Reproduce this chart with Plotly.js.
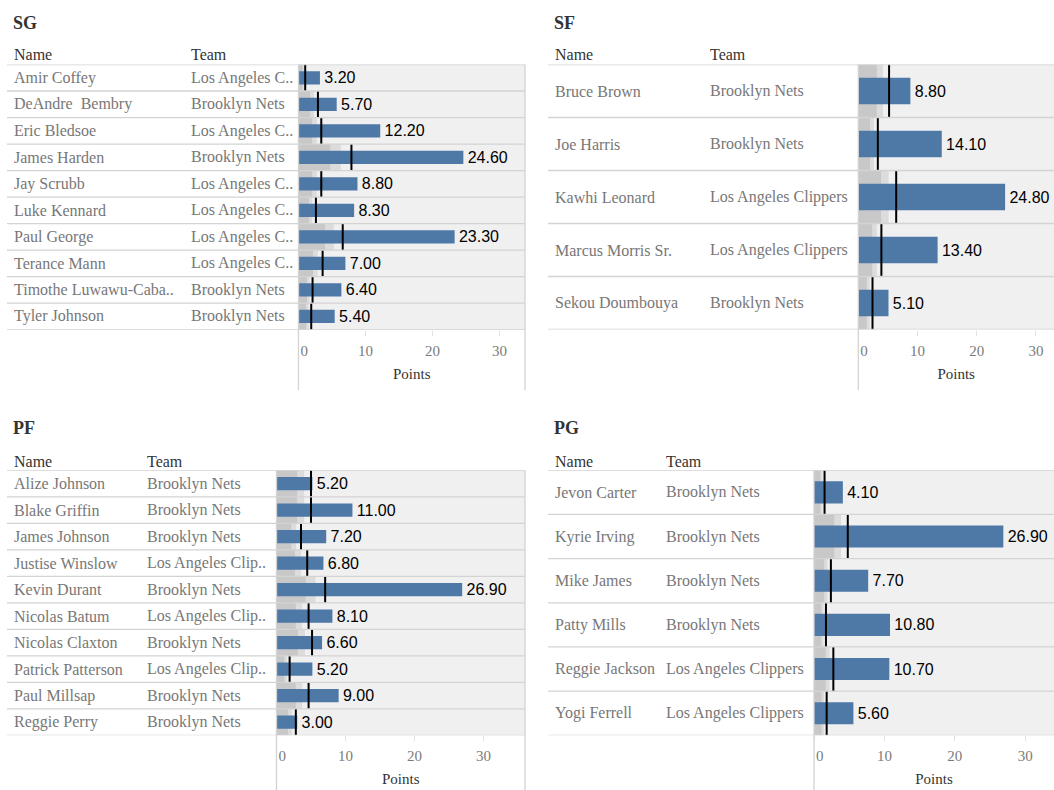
<!DOCTYPE html>
<html>
<head>
<meta charset="utf-8">
<script src="https://cdn.plot.ly/plotly-3.0.1.min.js"></script>
<style>html,body{margin:0;padding:0;background:#fff;}#chart{width:1054px;height:790px;}</style>
</head>
<body>
<div id="chart"></div>
<script>
// ---------- DATA ----------
const sgNames  = ["Amir Coffey","DeAndre  Bembry","Eric Bledsoe","James Harden","Jay Scrubb","Luke Kennard","Paul George","Terance Mann","Timothe Luwawu-Caba..","Tyler Johnson"];
const sgTeams  = ["Los Angeles C..","Brooklyn Nets","Los Angeles C..","Brooklyn Nets","Los Angeles C..","Los Angeles C..","Los Angeles C..","Los Angeles C..","Brooklyn Nets","Brooklyn Nets"];
const sgPoints = [3.2,5.7,12.2,24.6,8.8,8.3,23.3,7.0,6.4,5.4];
const sgRefs   = [1.0,2.9,3.4,7.9,3.4,2.6,6.6,3.6,2.1,1.9];

const sfNames  = ["Bruce Brown","Joe Harris","Kawhi Leonard","Marcus Morris Sr.","Sekou Doumbouya"];
const sfTeams  = ["Brooklyn Nets","Brooklyn Nets","Los Angeles Clippers","Los Angeles Clippers","Brooklyn Nets"];
const sfPoints = [8.8,14.1,24.8,13.4,5.1];
const sfRefs   = [5.2,3.3,6.4,3.9,2.4];

const pfNames  = ["Alize Johnson","Blake Griffin","James Johnson","Justise Winslow","Kevin Durant","Nicolas Batum","Nicolas Claxton","Patrick Patterson","Paul Millsap","Reggie Perry"];
const pfTeams  = ["Brooklyn Nets","Brooklyn Nets","Brooklyn Nets","Los Angeles Clip..","Brooklyn Nets","Los Angeles Clip..","Brooklyn Nets","Los Angeles Clip..","Brooklyn Nets","Brooklyn Nets"];
const pfPoints = [5.2,11.0,7.2,6.8,26.9,8.1,6.6,5.2,9.0,3.0];
const pfRefs   = [5.0,5.0,3.55,4.45,7.05,4.65,5.15,1.9,4.65,2.8];

const pgNames  = ["Jevon Carter","Kyrie Irving","Mike James","Patty Mills","Reggie Jackson","Yogi Ferrell"];
const pgTeams  = ["Brooklyn Nets","Brooklyn Nets","Brooklyn Nets","Brooklyn Nets","Los Angeles Clippers","Los Angeles Clippers"];
const pgPoints = [4.1,26.9,7.7,10.8,10.7,5.6];
const pgRefs   = [1.5,4.8,2.4,1.7,2.75,1.8];

const tickVals = [0,10,20,30];
const tickText = ["\u00a0\u00a0\u00a00","10","20","30"];
const axisTitle = "Points";
const colHeaders = ["Name","Team"];

// ---------- LAYOUT GEOMETRY (pixels) ----------
const W = 1054, H = 790;
const fx = v => v / W, fy = v => 1 - v / H;

const panels = [
  {title:"SG", names:sgNames, teams:sgTeams, pts:sgPoints, refs:sgRefs,
   titleX:11, titleY:22.7, headY:54.3, nameX:12, teamX:189, sepX:7,
   x0:298.5, x1:525, yTop:64.5, yBot:329.7, axBot:390, xmax:33.8, rightBorder:true},
  {title:"SF", names:sfNames, teams:sfTeams, pts:sfPoints, refs:sfRefs,
   titleX:552, titleY:22.7, headY:54.3, nameX:553, teamX:708, sepX:548,
   x0:858.3, x1:1054, yTop:64.5, yBot:329.5, axBot:390, xmax:33.06, rightBorder:false},
  {title:"PF", names:pfNames, teams:pfTeams, pts:pfPoints, refs:pfRefs,
   titleX:11, titleY:427.8, headY:461, nameX:12, teamX:144.5, sepX:7,
   x0:276.5, x1:525, yTop:470.3, yBot:735.3, axBot:790, xmax:36.0, rightBorder:true},
  {title:"PG", names:pgNames, teams:pgTeams, pts:pgPoints, refs:pgRefs,
   titleX:552, titleY:427.8, headY:461, nameX:553, teamX:663.5, sepX:548,
   x0:814, x1:1054, yTop:470.3, yBot:735.3, axBot:790, xmax:34.1, rightBorder:false}
];

const SERIF = "Liberation Serif";
const SANS = "Liberation Sans";
const BLUE = "#4e79a7", BAND_DARK = "#c8c8c8", BAND_LIGHT = "#dcdcdc", SEP = "#d3d3d3";

const traces = [];
const shapes = [];
const annotations = [];
const layout = {
  width: W, height: H,
  margin: {l:0, r:0, t:0, b:0},
  paper_bgcolor: "#ffffff",
  plot_bgcolor: "#f0f0f0",
  barmode: "overlay",
  showlegend: false,
  font: {family: SERIF, color: "#333"}
};

panels.forEach((p, k) => {
  const n = p.names.length;
  const xa = k === 0 ? "x" : "x" + (k + 1);
  const ya = k === 0 ? "y" : "y" + (k + 1);
  const xaKey = k === 0 ? "xaxis" : "xaxis" + (k + 1);
  const yaKey = k === 0 ? "yaxis" : "yaxis" + (k + 1);

  layout[xaKey] = {
    domain: [fx(p.x0), fx(p.x1)], anchor: ya,
    range: [0, p.xmax], fixedrange: true,
    tickvals: tickVals, ticktext: tickText,
    ticks: "outside", ticklen: 5, tickcolor: "#e2e2e2", tickwidth: 1,
    showgrid: false, zeroline: false, showline: false,
    tickfont: {family: SERIF, size: 15, color: "#7b7b7b"},
    ticklabelstandoff: 2,
    title: {text: axisTitle, font: {family: SERIF, size: 15, color: "#333"}, standoff: 10}
  };
  layout[yaKey] = {
    domain: [fy(p.yBot), fy(p.yTop)], anchor: xa,
    type: "category", categoryarray: p.names, categoryorder: "array",
    range: [n - 0.5, -0.5], fixedrange: true,
    showticklabels: false, showgrid: false, zeroline: false, showline: false, ticks: ""
  };

  // distribution bands (60% and 80% of reference)
  traces.push({type:"bar", orientation:"h", xaxis:xa, yaxis:ya, y:p.names,
    x:p.refs.map(r => 0.8 * r), width:1, marker:{color:BAND_LIGHT}, hoverinfo:"skip"});
  traces.push({type:"bar", orientation:"h", xaxis:xa, yaxis:ya, y:p.names,
    x:p.refs.map(r => 0.6 * r), width:1, marker:{color:BAND_DARK}, hoverinfo:"skip"});
  // value bars
  traces.push({type:"bar", orientation:"h", xaxis:xa, yaxis:ya, y:p.names, x:p.pts,
    width:0.5, marker:{color:BLUE},
    texttemplate:"\u200a%{x:.2f}", textposition:"outside", constraintext:"none", cliponaxis:false,
    textfont:{family:SANS, size:16, color:"#000"},
    hovertemplate:"%{y}: %{x:.2f}<extra></extra>"});

  // reference lines
  p.refs.forEach((r, i) => {
    shapes.push({type:"line", layer:"above", xref:xa, yref:ya,
      x0:r, x1:r, y0:i - 0.5, y1:i + 0.5, line:{color:"#000", width:2}});
  });
  // row separators
  for (let i = 0; i <= n; i++) {
    shapes.push({type:"line", layer:"above", xref:"paper", yref:ya,
      x0:fx(p.sepX), x1:fx(p.x1), y0:i - 0.5, y1:i - 0.5, line:{color:SEP, width:1.3}});
  }
  // pane borders below plot
  shapes.push({type:"line", layer:"above", xref:"paper", yref:"paper",
    x0:fx(p.x0), x1:fx(p.x0), y0:fy(p.yTop), y1:fy(p.axBot), line:{color:SEP, width:1.3}});
  if (p.rightBorder) {
    shapes.push({type:"line", layer:"above", xref:"paper", yref:"paper",
      x0:fx(p.x1), x1:fx(p.x1), y0:fy(p.yTop), y1:fy(p.axBot), line:{color:SEP, width:1.3}});
  }

  // panel title
  annotations.push({xref:"paper", yref:"paper", x:fx(p.titleX), y:fy(p.titleY),
    xanchor:"left", yanchor:"middle", showarrow:false, text:"<b>" + p.title + "</b>",
    font:{family:SERIF, size:18, color:"#333"}});
  // column headers
  annotations.push({xref:"paper", yref:"paper", x:fx(p.nameX), y:fy(p.headY),
    xanchor:"left", yanchor:"middle", showarrow:false, text:colHeaders[0],
    font:{family:SERIF, size:16, color:"#333"}});
  annotations.push({xref:"paper", yref:"paper", x:fx(p.teamX), y:fy(p.headY),
    xanchor:"left", yanchor:"middle", showarrow:false, text:colHeaders[1],
    font:{family:SERIF, size:16, color:"#333"}});
  // names and teams
  p.names.forEach((nm, i) => {
    annotations.push({xref:"paper", yref:ya, x:fx(p.nameX), y:i,
      xanchor:"left", yanchor:"middle", showarrow:false, text:nm.replace(/  /g, " \u00a0"),
      font:{family:SERIF, size:16, color:"#777"}});
    annotations.push({xref:"paper", yref:ya, x:fx(p.teamX), y:i,
      xanchor:"left", yanchor:"middle", showarrow:false, text:p.teams[i],
      font:{family:SERIF, size:16, color:"#777"}});
  });
});

layout.shapes = shapes;
layout.annotations = annotations;

Plotly.newPlot("chart", traces, layout, {displayModeBar:false, staticPlot:true});
</script>
</body>
</html>
